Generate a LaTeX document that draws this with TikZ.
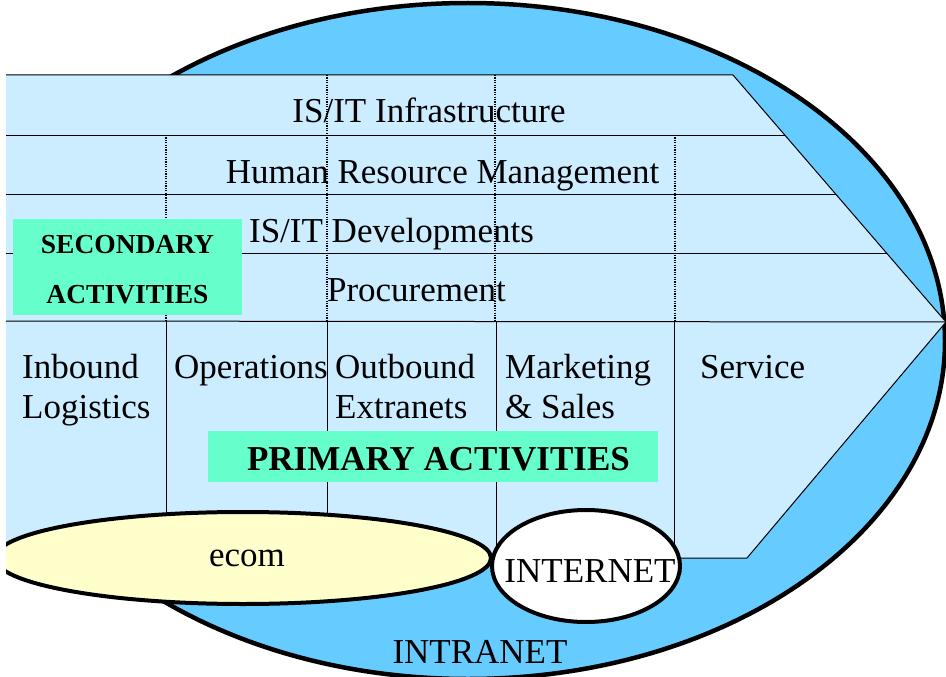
\documentclass[tikz,border=0pt]{standalone}
\usepackage{fontspec}
\setmainfont{Liberation Serif}
\usetikzlibrary{shapes.geometric}
\definecolor{intranetblue}{HTML}{66CCFF}
\definecolor{chevblue}{HTML}{CCECFF}
\definecolor{actgreen}{HTML}{66FFCC}
\definecolor{ecomyellow}{HTML}{FFFFCC}
\begin{document}
\begin{tikzpicture}[x=1pt,y=-1pt,
  lbl/.style={inner sep=0pt, font=\fontsize{35}{40}\selectfont},
  thinline/.style={line width=1pt, draw=black},
  dotline/.style={line width=1.3pt, draw=black, dash pattern=on 1.2pt off 1.2pt},
  actbox/.style={fill=actgreen, draw=none, inner sep=0pt},
  bigoval/.style={ellipse, draw=black, line width=4pt, inner sep=0pt, font=\fontsize{35}{40}\selectfont}]
\useasboundingbox (0,0) rectangle (946,677);
% intranet oval
\begin{scope}
  \clip (6,-5) rectangle (952,682);
  \draw[fill=intranetblue, line width=4.5pt] (468,341) ellipse [x radius=477, y radius=338];
\end{scope}
% value chain chevron
\coordinate (c1) at (6,75);
\coordinate (c2) at (733,75);
\coordinate (tip) at (946,322);
\coordinate (c4) at (747,558);
\coordinate (c5) at (6,558);
\fill[chevblue] (c1) -- (c2) -- (tip) -- (c4) -- (c5) -- cycle;
\draw[thinline] (c5) -- (c4) -- (tip) -- (c2) -- (c1);
% row separators
\draw[thinline] (6,135) -- (784.7,135);
\draw[thinline] (6,194) -- (835.6,194);
\draw[thinline] (6,253) -- (886.5,253);
\draw[thinline] (6,321) -- (tip);
% primary column separators
\draw[thinline] (166,321) -- (166,558);
\draw[thinline] (327,321) -- (327,558);
\draw[thinline] (496,321) -- (496,558);
\draw[thinline] (674,321) -- (674,558);
% support activity labels
\node[lbl, anchor=base] (infra) at (429,123) {IS/IT Infrastructure};
\node[lbl, anchor=base] (hrm) at (442.5,183) {Human Resource Management};
\node[lbl, anchor=base] (dev) at (391.5,242) {IS/IT Developments};
\node[lbl, anchor=base] (proc) at (416.5,301) {Procurement};
% dotted column lines in support area
\draw[dotline] (166,135) -- (166,321);
\draw[dotline] (327,75) -- (327,321);
\draw[dotline] (495,75) -- (495,321);
\draw[dotline] (675,135) -- (675,321);
% primary activity labels
\node[lbl, anchor=base west] (inb) at (22,378) {\begin{tabular}[t]{@{}l@{}}Inbound\\Logistics\end{tabular}};
\node[lbl, anchor=base west] (ops) at (174,378) {Operations};
\node[lbl, anchor=base west] (outb) at (335,378) {\begin{tabular}[t]{@{}l@{}}Outbound\\Extranets\end{tabular}};
\node[lbl, anchor=base west] (mkt) at (505,378) {\begin{tabular}[t]{@{}l@{}}Marketing\\\& Sales\end{tabular}};
\node[lbl, anchor=base west] (serv) at (700,378) {Service};
% green boxes
\node[actbox, minimum width=229pt, minimum height=96pt,
      font=\bfseries\fontsize{27.5}{50}\selectfont] (sec) at (127.5,267)
      {\makebox[0pt]{\smash{\raisebox{14pt}{\begin{tabular}[t]{@{}c@{}}SECONDARY\\ACTIVITIES\end{tabular}}}}};
\node[actbox, minimum width=450pt, minimum height=51pt,
      font=\bfseries\fontsize{35}{40}\selectfont] (prim) at (433,456.5)
      {\makebox[0pt]{\hspace*{11pt}\smash{\raisebox{-13.5pt}{PRIMARY ACTIVITIES}}}};
% ecom and internet ovals
\begin{scope}
  \clip (6,480) rectangle (700,640);
  \node[bigoval, fill=ecomyellow, minimum width=496pt, minimum height=92pt] (ecom) at (243,558)
      {\makebox[0pt]{\hspace*{8pt}\smash{\raisebox{-8pt}{ecom}}}};
\end{scope}
\node[bigoval, fill=white, minimum width=188pt, minimum height=112pt] (internet) at (586,566)
      {\makebox[0pt]{\hspace*{8pt}\smash{\raisebox{-16pt}{INTERNET}}}};
% intranet label
\node[lbl, anchor=base] (intranet) at (480,663) {INTRANET};
\end{tikzpicture}
\end{document}
